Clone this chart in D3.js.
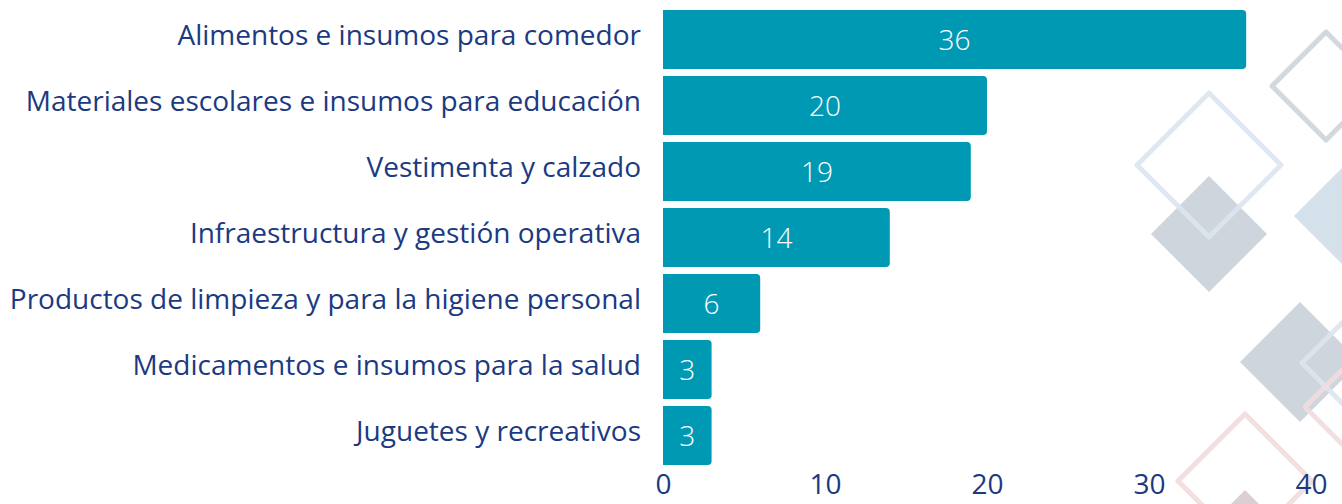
<!DOCTYPE html>
<html><head><meta charset="utf-8">
<script src="https://cdn.jsdelivr.net/npm/d3@7"></script>
<style>html,body{margin:0;padding:0;background:#fff;overflow:hidden}</style>
</head><body>
<svg id="c" width="1342" height="504"></svg>
<script>
const categories = [
  "Alimentos e insumos para comedor",
  "Materiales escolares e insumos para educación",
  "Vestimenta y calzado",
  "Infraestructura y gestión operativa",
  "Productos de limpieza y para la higiene personal",
  "Medicamentos e insumos para la salud",
  "Juguetes y recreativos"
];
const values = [36, 20, 19, 14, 6, 3, 3];
const tickValues = [0, 10, 20, 30, 40];

const svg = d3.select("#c");
const textColor = "#1b3a82";
const barColor = "#0099b3";
const font = "'Open Sans', sans-serif";

// background decoration (rotated squares)
const decor = [
  {cx:1326, cy:86,  h:54, fill:"none", stroke:"#d3d8de", sw:5},
  {cx:1370, cy:216, h:76, fill:"#d4e0ea", stroke:"none", sw:0},
  {cx:1209, cy:234, h:58, fill:"#cfd5dc", stroke:"none", sw:0},
  {cx:1209, cy:165, h:72, fill:"none", stroke:"#dbe4ee", sw:5, op:0.9},
  {cx:1300, cy:362, h:60, fill:"#cfd5dc", stroke:"none", sw:0},
  {cx:1375, cy:363, h:73, fill:"none", stroke:"#dbe4ee", sw:5, op:0.9},
  {cx:1378, cy:407, h:73, fill:"none", stroke:"#f0dcdf", sw:5, op:0.9},
  {cx:1245, cy:545, h:55, fill:"#dccfd4", stroke:"none", sw:0},
  {cx:1245, cy:481, h:67, fill:"none", stroke:"#f3dfe0", sw:5}
];
svg.append("g").selectAll("path").data(decor).join("path")
  .attr("d", d => `M${d.cx},${d.cy-d.h}L${d.cx+d.h},${d.cy}L${d.cx},${d.cy+d.h}L${d.cx-d.h},${d.cy}Z`)
  .attr("fill", d => d.fill).attr("stroke", d => d.stroke).attr("stroke-width", d => d.sw)
  .attr("stroke-linejoin","round").attr("opacity", d => d.op || 1);

const x = d3.scaleLinear().domain([0, 40]).range([663, 1311]);
const y = d3.scaleBand().domain(categories).range([3, 472]).padding(0.106);

const r = 4;
const g = svg.append("g");
g.selectAll("path.bar").data(categories).join("path").attr("class","bar")
  .attr("fill", barColor)
  .attr("d", (c,i) => {
    const x0 = x(0), x1 = x(values[i]), y0 = y(c), y1 = y(c) + y.bandwidth();
    return `M${x0},${y0}H${x1-r}Q${x1},${y0} ${x1},${y0+r}V${y1-r}Q${x1},${y1} ${x1-r},${y1}H${x0}Z`;
  });

g.selectAll("text.val").data(categories).join("text").attr("class","val")
  .attr("x", (c,i) => (x(0) + x(values[i]))/2)
  .attr("y", c => y(c) + y.bandwidth()/2)
  .attr("dy", "0.36em")
  .attr("text-anchor","middle")
  .attr("fill","#fff")
  .style("font-family", font).style("font-size","28px").style("font-weight","300")
  .text((c,i) => values[i]);

g.selectAll("text.cat").data(categories).join("text").attr("class","cat")
  .attr("x", 641)
  .attr("y", c => y(c) + y.bandwidth()/2)
  .attr("dy", "0.18em")
  .attr("text-anchor","end")
  .attr("fill", textColor)
  .style("font-family", font).style("font-size","28px")
  .text(c => c);

const axis = d3.axisBottom(x).tickValues(tickValues).tickSize(0).tickPadding(0);
const ax = svg.append("g").attr("transform","translate(0,474)").call(axis);
ax.select(".domain").remove();
ax.selectAll("text").attr("fill", textColor).attr("dy","0.71em")
  .style("font-family", font).style("font-size","28px");
</script>
</body></html>
